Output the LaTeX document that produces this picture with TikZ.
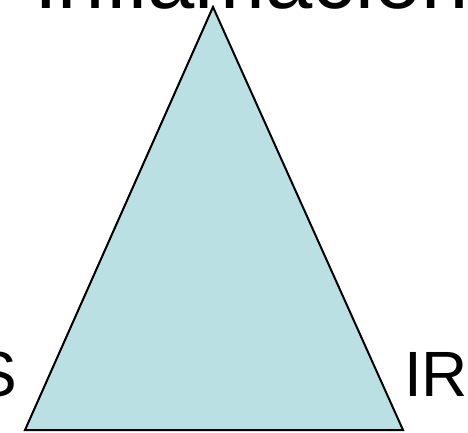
\documentclass[tikz,border=0pt]{standalone}
\usepackage{fontspec}
\setmainfont{Liberation Sans}
\usepackage{xcolor}
\usepackage{tikz}
\usetikzlibrary{positioning}
\definecolor{TriFill}{RGB}{187,224,227}
\definecolor{TriLine}{RGB}{0,0,0}
\tikzset{
  tri/.style={draw=TriLine,fill=TriFill,line width=2pt,line join=miter},
  bigtxt/.style={inner sep=0pt,font=\fontsize{85}{90}\selectfont},
  sidetxt/.style={inner sep=0pt,font=\fontsize{64}{70}\selectfont},
}
\begin{document}
\begin{tikzpicture}[x=1pt,y=-1pt]
    \useasboundingbox (0,0) rectangle (468,432);
    %% triangle corners
    \coordinate (apex)  at (213,7);
    \coordinate (left)  at (25,430);
    \coordinate (right) at (403,430);
    \draw[tri] (apex) -- (left) -- (right) -- cycle;
    %% labels
    \node[bigtxt,anchor=base west]  (top)   at (34,8)   {Inflamación};
    \node[sidetxt,anchor=base east] (lside) at (17,396) {S};
    \node[sidetxt,anchor=base west] (rside) at (404,396) {IR};
\end{tikzpicture}
\end{document}
